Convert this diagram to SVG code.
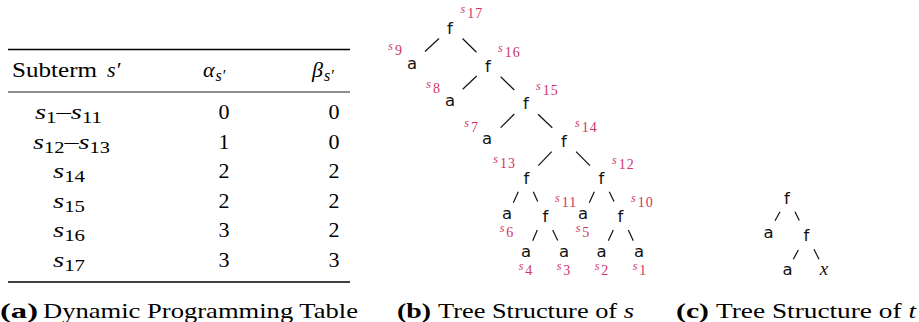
<svg xmlns="http://www.w3.org/2000/svg" width="919" height="322" viewBox="0 0 919 322">
<style>
.t{font-family:"Liberation Serif","Times New Roman",serif;font-size:22px;fill:#000}
.i{font-style:italic}
.sub{font-size:16px}
.cap{font-family:"Liberation Serif","Times New Roman",serif;font-size:22px;fill:#000}
.b{font-weight:bold}
.n{font-family:"DejaVu Sans","Liberation Sans",sans-serif;font-size:16.5px;fill:#111;text-anchor:middle}
.nx{font-family:"Liberation Serif",serif;font-style:italic;font-size:19px;fill:#111;text-anchor:middle}
.lb{font-family:"Liberation Serif","Times New Roman",serif;font-size:14px;fill:#d03468;letter-spacing:1px}
.ls{font-style:italic;font-size:12px;letter-spacing:2px}
.e line{stroke:#111;stroke-width:1.2}
.rule{stroke:#000}
</style>

<g id="table">
  <line class="rule" x1="8" y1="49.5" x2="350" y2="49.5" stroke-width="1.4"/>
  <line class="rule" x1="8" y1="92" x2="350" y2="92" stroke-width="0.9"/>
  <line class="rule" x1="8" y1="282" x2="350" y2="282" stroke-width="1.4"/>
  <text class="t" x="12" y="77" textLength="85" lengthAdjust="spacingAndGlyphs">Subterm</text>
  <text class="t i" x="107" y="77">s′</text>
  <text class="t" x="203" y="77"><tspan class="i">α</tspan><tspan class="sub i" dy="4" dx="1">s′</tspan></text>
  <text class="t" x="312" y="77"><tspan class="i">β</tspan><tspan class="sub i" dy="4" dx="1">s′</tspan></text>

  <text class="t" x="35" y="119" textLength="67" lengthAdjust="spacingAndGlyphs"><tspan class="i">s</tspan><tspan class="sub" dy="4">1</tspan><tspan dy="-4">–</tspan><tspan class="i">s</tspan><tspan class="sub" dy="4">11</tspan></text>
  <text class="t" x="33" y="148.5" textLength="77" lengthAdjust="spacingAndGlyphs"><tspan class="i">s</tspan><tspan class="sub" dy="4">12</tspan><tspan dy="-4">–</tspan><tspan class="i">s</tspan><tspan class="sub" dy="4">13</tspan></text>
  <text class="t" x="53" y="178" textLength="32" lengthAdjust="spacingAndGlyphs"><tspan class="i">s</tspan><tspan class="sub" dy="4">14</tspan></text>
  <text class="t" x="53" y="207.5" textLength="32" lengthAdjust="spacingAndGlyphs"><tspan class="i">s</tspan><tspan class="sub" dy="4">15</tspan></text>
  <text class="t" x="53" y="237" textLength="32" lengthAdjust="spacingAndGlyphs"><tspan class="i">s</tspan><tspan class="sub" dy="4">16</tspan></text>
  <text class="t" x="53" y="266.5" textLength="32" lengthAdjust="spacingAndGlyphs"><tspan class="i">s</tspan><tspan class="sub" dy="4">17</tspan></text>

  <g text-anchor="middle">
    <text class="t" x="224" y="119">0</text><text class="t" x="334" y="119">0</text>
    <text class="t" x="224" y="148.5">1</text><text class="t" x="334" y="148.5">0</text>
    <text class="t" x="224" y="178">2</text><text class="t" x="334" y="178">2</text>
    <text class="t" x="224" y="207.5">2</text><text class="t" x="334" y="207.5">2</text>
    <text class="t" x="224" y="237">3</text><text class="t" x="334" y="237">2</text>
    <text class="t" x="224" y="266.5">3</text><text class="t" x="334" y="266.5">3</text>
  </g>
</g>

<g id="connectors" class="e">
  <line x1="439" y1="38.5" x2="425" y2="51.5"/>
  <line x1="462.5" y1="38.5" x2="476.5" y2="52.3"/>
  <line x1="476.7" y1="76" x2="462.7" y2="89.3"/>
  <line x1="500.7" y1="76.7" x2="514.3" y2="90"/>
  <line x1="514.3" y1="114" x2="500.7" y2="127.7"/>
  <line x1="538" y1="114.3" x2="552.3" y2="127.7"/>
  <line x1="551.7" y1="151.7" x2="538.3" y2="165.7"/>
  <line x1="576" y1="151.7" x2="590" y2="165.7"/>
  <line x1="518.3" y1="191.7" x2="513.3" y2="202.7"/>
  <line x1="533.3" y1="191.7" x2="537.7" y2="201.5"/>
  <line x1="594.3" y1="191.7" x2="589.3" y2="202.7"/>
  <line x1="609.3" y1="191.7" x2="614" y2="201.5"/>
  <line x1="537.3" y1="230" x2="532.7" y2="240.7"/>
  <line x1="552.7" y1="230" x2="557.7" y2="240.5"/>
  <line x1="613.3" y1="230" x2="608.3" y2="240.7"/>
  <line x1="628.3" y1="230" x2="633.3" y2="240.7"/>
  <line x1="780" y1="211.7" x2="775" y2="220.7"/>
  <line x1="795" y1="211.7" x2="799.3" y2="220.5"/>
  <line x1="798.3" y1="250" x2="793.3" y2="259.3"/>
  <line x1="814" y1="249.3" x2="819" y2="259.3"/>
</g>

<g id="s17"><text class="n" x="450" y="33.5">f</text><text class="lb" x="460.5" y="18.3"><tspan class="ls" dy="-5">s</tspan><tspan dy="5">17</tspan></text></g>
<g id="s9"><text class="n" x="412" y="68.9">a</text><text class="lb" x="403" y="55" text-anchor="end"><tspan class="ls" dy="-5">s</tspan><tspan dy="5">9</tspan></text></g>
<g id="s16"><text class="n" x="488" y="71.5">f</text><text class="lb" x="498" y="57"><tspan class="ls" dy="-5">s</tspan><tspan dy="5">16</tspan></text></g>
<g id="s8"><text class="n" x="450" y="106.4">a</text><text class="lb" x="441" y="93" text-anchor="end"><tspan class="ls" dy="-5">s</tspan><tspan dy="5">8</tspan></text></g>
<g id="s15"><text class="n" x="526" y="109">f</text><text class="lb" x="536" y="95"><tspan class="ls" dy="-5">s</tspan><tspan dy="5">15</tspan></text></g>
<g id="s7"><text class="n" x="487" y="143.9">a</text><text class="lb" x="479" y="132" text-anchor="end"><tspan class="ls" dy="-5">s</tspan><tspan dy="5">7</tspan></text></g>
<g id="s14"><text class="n" x="564" y="146.5">f</text><text class="lb" x="575" y="132"><tspan class="ls" dy="-5">s</tspan><tspan dy="5">14</tspan></text></g>
<g id="s13"><text class="n" x="526.5" y="184">f</text><text class="lb" x="516" y="168" text-anchor="end"><tspan class="ls" dy="-5">s</tspan><tspan dy="5">13</tspan></text></g>
<g id="s12"><text class="n" x="601.5" y="184">f</text><text class="lb" x="612" y="169"><tspan class="ls" dy="-5">s</tspan><tspan dy="5">12</tspan></text></g>
<g id="s6"><text class="n" x="507" y="219.4">a</text><text class="lb" x="507" y="237" text-anchor="middle"><tspan class="ls" dy="-5">s</tspan><tspan dy="5">6</tspan></text></g>
<g id="s11"><text class="n" x="545.5" y="221.5">f</text><text class="lb" x="555" y="207"><tspan class="ls" dy="-5">s</tspan><tspan dy="5">11</tspan></text></g>
<g id="s5"><text class="n" x="583" y="219.4">a</text><text class="lb" x="583" y="237" text-anchor="middle"><tspan class="ls" dy="-5">s</tspan><tspan dy="5">5</tspan></text></g>
<g id="s10"><text class="n" x="620.5" y="221.5">f</text><text class="lb" x="631" y="207"><tspan class="ls" dy="-5">s</tspan><tspan dy="5">10</tspan></text></g>
<g id="s4"><text class="n" x="526" y="257.4">a</text><text class="lb" x="526" y="275" text-anchor="middle"><tspan class="ls" dy="-5">s</tspan><tspan dy="5">4</tspan></text></g>
<g id="s3"><text class="n" x="564" y="257.4">a</text><text class="lb" x="564" y="275" text-anchor="middle"><tspan class="ls" dy="-5">s</tspan><tspan dy="5">3</tspan></text></g>
<g id="s2"><text class="n" x="601.5" y="257.4">a</text><text class="lb" x="602" y="275" text-anchor="middle"><tspan class="ls" dy="-5">s</tspan><tspan dy="5">2</tspan></text></g>
<g id="s1"><text class="n" x="639" y="257.4">a</text><text class="lb" x="640" y="275" text-anchor="middle"><tspan class="ls" dy="-5">s</tspan><tspan dy="5">1</tspan></text></g>

<g id="t-root"><text class="n" x="787" y="203.7">f</text></g>
<g id="t-a1"><text class="n" x="768.5" y="238.4">a</text></g>
<g id="t-f"><text class="n" x="806.5" y="241.2">f</text></g>
<g id="t-a2"><text class="n" x="787.5" y="275.4">a</text></g>
<g id="t-x"><text class="nx" x="824" y="275">x</text></g>

<g id="captions">
  <text class="cap b" x="0" y="318" textLength="38" lengthAdjust="spacingAndGlyphs">(a)</text>
  <text class="cap" x="43" y="318" textLength="315" lengthAdjust="spacingAndGlyphs">Dynamic Programming Table</text>
  <text class="cap b" x="397" y="318" textLength="34" lengthAdjust="spacingAndGlyphs">(b)</text>
  <text class="cap" x="438" y="318" textLength="196" lengthAdjust="spacingAndGlyphs">Tree Structure of <tspan class="i">s</tspan></text>
  <text class="cap b" x="676" y="318" textLength="33" lengthAdjust="spacingAndGlyphs">(c)</text>
  <text class="cap" x="716" y="318" textLength="200" lengthAdjust="spacingAndGlyphs">Tree Structure of <tspan class="i">t</tspan></text>
</g>
</svg>
